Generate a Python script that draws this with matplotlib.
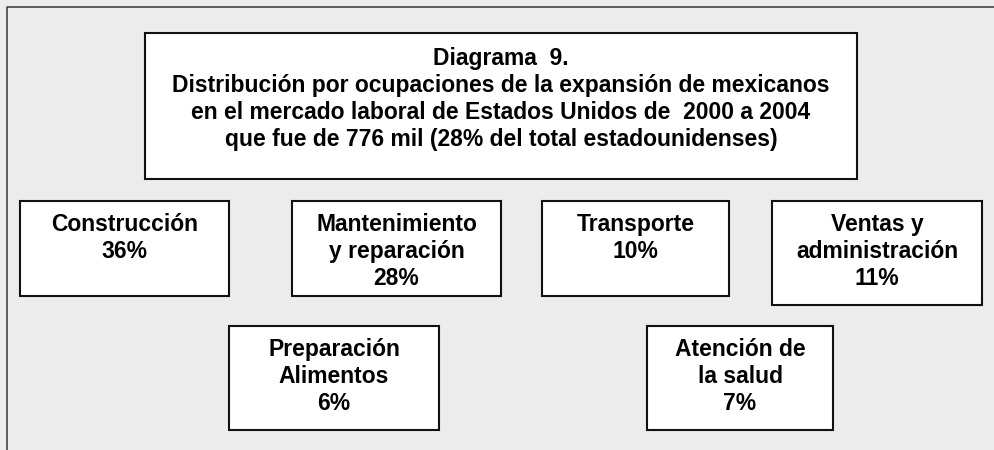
import matplotlib.pyplot as plt
from matplotlib.patches import Rectangle

# text content
title_lines = ['Diagrama  9.',
               'Distribución por ocupaciones de la expansión de mexicanos',
               'en el mercado laboral de Estados Unidos de  2000 a 2004',
               'que fue de 776 mil (28% del total estadounidenses)']
labels = ['Construcción', 'Mantenimiento\ny reparación', 'Transporte',
          'Ventas y\nadministración', 'Preparación\nAlimentos', 'Atención de\nla salud']
shares = [36, 28, 10, 11, 6, 7]

# box layout in pixels: left, top, right, bottom
title_box = (145, 33, 857, 179)
boxes = [(20, 201, 229, 296), (292, 201, 501, 296), (542, 201, 729, 296),
         (772, 201, 982, 305), (229, 326, 439, 430), (647, 326, 833, 430)]

plt.rcParams['font.family'] = ['Liberation Sans', 'DejaVu Sans']
fig = plt.figure(figsize=(9.94, 4.5), dpi=100)
fig.patch.set_facecolor('#ececec')
ax = fig.add_axes([0, 0, 1, 1])
ax.set_xlim(0, 994)
ax.set_ylim(450, 0)
ax.axis('off')

# outer frame (only top and left visible)
ax.plot([7, 7, 994], [450, 7, 7], color='#444444', lw=1.2)

fs = 16.5


def draw_box(box, text, first_top):
    l, t, r, b = box
    ax.add_patch(Rectangle((l, t), r - l, b - t, facecolor='white',
                           edgecolor='#111111', lw=1.5))
    ax.text((l + r) / 2, t + first_top, text, ha='center', va='top', fontsize=fs,
            fontweight='bold', linespacing=1.23, color='black')


draw_box(title_box, '\n'.join(title_lines), 14)
for box, lab, s in zip(boxes, labels, shares):
    draw_box(box, lab + '\n' + str(s) + '%', 12)

fig.savefig('out.png', dpi=100, facecolor=fig.get_facecolor())
